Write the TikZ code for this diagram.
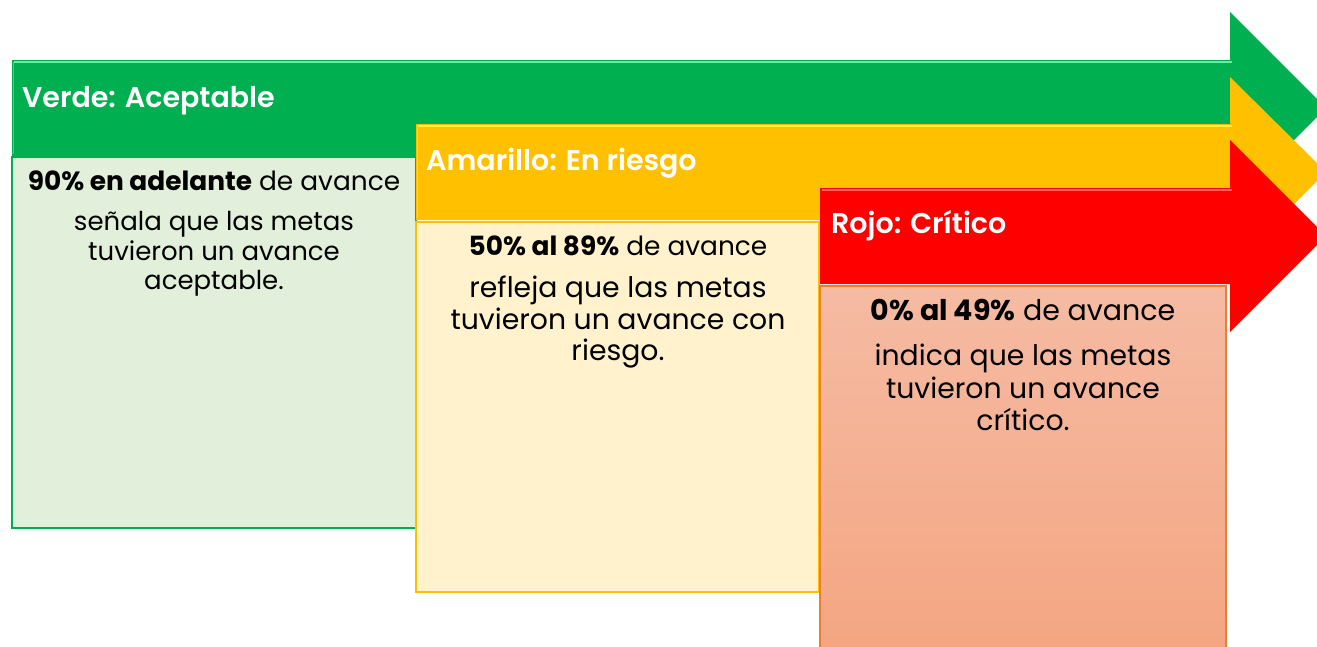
\documentclass[tikz,border=0pt]{standalone}
\usepackage{fontspec}
\setmainfont{Poppins}
\newfontfamily\headfont{Poppins}[UprightFont=* SemiBold]
\usetikzlibrary{shadings}
\definecolor{cgreen}{HTML}{00B050}
\definecolor{cgreenhi}{HTML}{5CF29A}
\definecolor{cyellow}{HTML}{FFC000}
\definecolor{cyellowhi}{HTML}{FFF04A}
\definecolor{cred}{HTML}{FF0000}
\definecolor{credhi}{HTML}{FF6060}
\definecolor{gbox}{HTML}{E2EFDA}
\definecolor{ybox}{HTML}{FFF2CC}
\definecolor{rboxtop}{HTML}{F5BBA3}
\definecolor{rboxbot}{HTML}{F4A581}
\definecolor{rborder}{HTML}{ED7D31}
\tikzset{
  headtext/.style={text=white, font=\fontsize{28.5}{32}\headfont, anchor=base west, inner sep=0pt},
  gtext/.style={text=black, font=\fontsize{26}{30}\selectfont, inner sep=0pt, anchor=base},
  ytext/.style={text=black, font=\fontsize{28.3}{32}\selectfont, inner sep=0pt, anchor=base},
  yfirst/.style={text=black, font=\fontsize{26.4}{30}\selectfont, inner sep=0pt, anchor=base},
  gfirst/.style={text=black, font=\fontsize{26.4}{30}\selectfont, inner sep=0pt, anchor=base},
  rfirst/.style={text=black, font=\fontsize{28.5}{32}\selectfont, inner sep=0pt, anchor=base},
}
\begin{document}
\begin{tikzpicture}[x=1pt,y=-1pt]
\useasboundingbox (0,0) rectangle (1317,646);
\fill[white] (0,0) rectangle (1317,646);
\clip (0,0) rectangle (1317,646);
% green arrow
\fill[cgreen] (12,60) -- (1230,60) -- (1230,12) -- (1326,108) -- (1230,204) -- (1230,156) -- (12,156) -- cycle;
\draw[cgreenhi, line width=2pt] (14,62) -- (1232,62);
\draw[cgreenhi, line width=1pt, opacity=0.6] (13,62) -- (13,154);
% green box
\filldraw[fill=gbox, draw=cgreen, line width=1.5pt] (12,157) rectangle (416,528);
% yellow arrow
\fill[cyellow] (416,124) -- (1230,124) -- (1230,77) -- (1326,172) -- (1230,268) -- (1230,220) -- (416,220) -- cycle;
\draw[cyellowhi, line width=2pt] (418,126) -- (1232,126);
\draw[cyellowhi, line width=1pt, opacity=0.6] (417,126) -- (417,218);
% yellow box
\filldraw[fill=ybox, draw=cyellow, line width=1.5pt] (416,222) rectangle (819,592);
% red arrow
\fill[cred] (820,188) -- (1230,188) -- (1230,140) -- (1326,236) -- (1230,332) -- (1230,284) -- (820,284) -- cycle;
\draw[credhi, line width=2pt] (822,190) -- (1232,190);
% red box
\shade[top color=rboxtop, bottom color=rboxbot] (820,286) rectangle (1226,660);
\draw[rborder, line width=1.5pt] (820,660) -- (820,286) -- (1226,286) -- (1226,660);
% headings
\node[headtext] (hg) at (22,107) {Verde: Aceptable};
\node[headtext] (hy) at (426,170) {Amarillo: En riesgo};
\node[headtext] (hr) at (831,233) {Rojo: Crítico};
% green box text
\node[gfirst] (g1) at (214,190) {\textbf{90\% en adelante} de avance};
\node[gtext] (g2) at (214,230) {señala que las metas};
\node[gtext] (g3) at (214,260) {tuvieron un avance};
\node[gtext] (g4) at (214,289) {aceptable.};
% yellow box text
\node[yfirst] (y1) at (618,255) {\textbf{50\% al 89\%} de avance};
\node[ytext] (y2) at (618,297) {refleja que las metas};
\node[ytext] (y3) at (618,329) {tuvieron un avance con};
\node[ytext] (y4) at (618,360) {riesgo.};
% red box text
\node[rfirst] (r1) at (1023,320) {\textbf{0\% al 49\%} de avance};
\node[ytext] (r2) at (1023,365) {indica que las metas};
\node[ytext] (r3) at (1023,398) {tuvieron un avance};
\node[ytext] (r4) at (1023,430) {crítico.};
\end{tikzpicture}
\end{document}
